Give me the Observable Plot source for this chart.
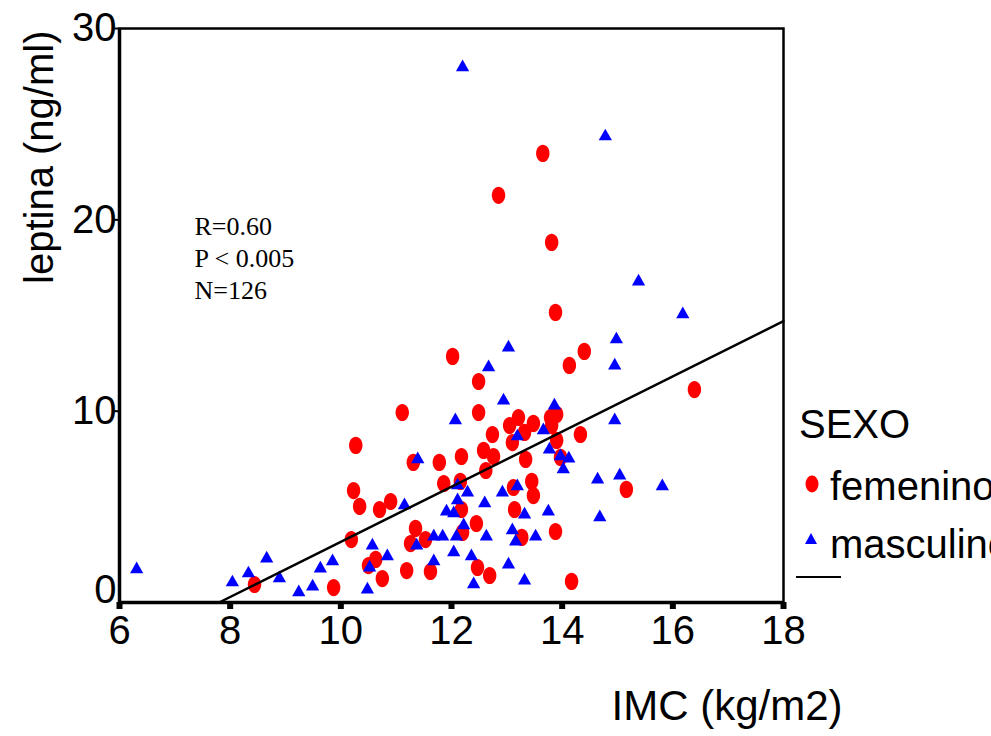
<!DOCTYPE html>
<html>
<head>
<meta charset="utf-8">
<script src="https://cdn.jsdelivr.net/npm/d3@7"></script>
<script src="https://cdn.jsdelivr.net/npm/@observablehq/plot@0.6"></script>
<style>
  html, body { margin: 0; padding: 0; background: #fff; }
  #wrap { position: relative; width: 991px; height: 736px; overflow: hidden; font-family: "Liberation Sans", Arial, sans-serif; }
  #legend { position: absolute; left: 0; top: 0; width: 991px; height: 736px; pointer-events: none; }
  #legend .t { position: absolute; font-size: 40px; line-height: 1; color: #000; white-space: nowrap; }
</style>
</head>
<body>
<div id="wrap"></div>
<script>
// ---- data ----
const femX = [13.65,12.85,13.81,13.88,12.02,14.40,14.13,12.49,16.39,11.11,12.49,10.27,11.31,11.78,12.18,12.58,12.74,12.76,13.05,13.21,13.48,13.32,13.10,13.79,13.90,13.90,14.33,13.34,13.97,12.62,12.16,11.86,10.23,10.34,10.70,10.90,13.12,13.45,13.48,15.16,13.14,12.18,11.35,12.20,12.45,10.19,11.53,11.26,13.27,13.88,10.63,10.50,11.19,11.62,12.47,12.69,10.75,8.44,9.87,14.17,13.81];
const femY = [23.47,21.28,18.82,15.16,12.86,13.12,12.39,11.55,11.13,9.93,9.93,8.21,7.32,7.32,7.63,7.95,8.78,7.63,9.25,9.67,9.36,8.89,8.36,9.67,9.83,8.47,8.78,7.48,7.58,6.90,6.33,6.22,5.85,5.02,4.86,5.28,6.01,6.33,5.59,5.91,4.86,4.86,3.87,3.66,4.13,3.29,3.29,3.08,3.40,3.71,2.25,1.93,1.67,1.62,1.83,1.41,1.25,0.94,0.78,1.10,9.25];
const masX = [12.20,14.78,15.38,16.18,14.98,13.03,12.67,14.95,12.94,13.86,12.07,14.95,13.19,13.66,13.77,13.97,14.12,14.02,14.64,15.04,15.81,11.39,11.15,12.11,12.29,12.11,11.91,12.04,12.60,12.92,13.19,13.75,14.68,12.22,12.63,13.10,13.16,13.52,11.68,11.84,12.09,11.37,12.04,10.57,10.84,11.68,12.36,13.03,13.32,8.66,8.33,9.63,9.85,10.52,8.89,8.04,9.24,9.49,10.48,12.40,13.32,6.31];
const masY = [28.07,24.46,16.88,15.16,13.85,13.43,12.39,12.49,10.66,10.40,9.62,9.62,8.78,9.10,8.10,7.74,7.63,7.06,6.53,6.74,6.17,7.58,5.18,6.22,5.85,5.44,4.86,4.76,5.28,5.85,6.17,4.86,4.55,4.13,3.55,3.87,3.29,3.55,3.55,3.55,3.55,3.08,2.72,3.08,2.51,2.25,2.51,2.09,4.70,2.40,1.62,1.88,2.25,1.93,1.36,1.15,0.63,0.94,0.78,1.05,1.25,1.83];
const fitX = [7.8, 18];
const fitY = [0, 14.7];
const xTicks = [6, 8, 10, 12, 14, 16, 18];
const yTicks = [10, 20, 30];
const yTickZero = [0];
const groups = ["femenino", "masculino"];
const legendTitle = "SEXO";
const xLabel = "IMC (kg/m2)";
const yLabel = "leptina (ng/ml)";
const statsText = ["R=0.60", "P < 0.005", "N=126"];

// ---- tables ----
const fem = femX.map((x, i) => ({x, y: femY[i], sexo: groups[0]}));
const mas = masX.map((x, i) => ({x, y: masY[i], sexo: groups[1]}));
const fit = fitX.map((x, i) => ({x, y: fitY[i]}));

// custom symbols
const ellipseSym = {
  draw(ctx, size) {
    const r = Math.sqrt(size / Math.PI);
    const rx = r * 0.78, ry = r, k = 0.5523;
    ctx.moveTo(rx, 0);
    ctx.bezierCurveTo(rx, ry * k, rx * k, ry, 0, ry);
    ctx.bezierCurveTo(-rx * k, ry, -rx, ry * k, -rx, 0);
    ctx.bezierCurveTo(-rx, -ry * k, -rx * k, -ry, 0, -ry);
    ctx.bezierCurveTo(rx * k, -ry, rx, -ry * k, rx, 0);
    ctx.closePath();
  }
};
const triSym = {
  draw(ctx, size) {
    const r = Math.sqrt(size / Math.PI);
    const a = r * 1.3, h = r * 2.3;
    ctx.moveTo(0, -h / 2);
    ctx.lineTo(a, h / 2);
    ctx.lineTo(-a, h / 2);
    ctx.closePath();
  }
};

const chart = Plot.plot({
  width: 991,
  height: 736,
  marginLeft: 119,
  marginRight: 208,
  marginTop: 28,
  marginBottom: 134,
  style: {fontFamily: "'Liberation Sans', Arial, sans-serif", fontSize: "40px", background: "#fff", color: "#000"},
  x: {domain: [6, 18]},
  y: {domain: [0, 30]},
  marks: [
    Plot.frame({stroke: "#000", strokeWidth: 2.5}),
    Plot.ruleX([6], {stroke: "#000", strokeWidth: 3.5}),
    Plot.ruleY([0], {stroke: "#000", strokeWidth: 3.5}),
    Plot.axisX(xTicks, {tickSize: 7, tickPadding: 6, strokeWidth: 6, label: null, fontSize: 40}),
    Plot.axisY(yTicks, {tickSize: 5, tickPadding: -2, strokeWidth: 2, label: null, fontSize: 40}),
    Plot.axisY(yTickZero, {tickSize: 0, tickPadding: 3, dy: -12, label: null, fontSize: 40}),
    Plot.dot(fem, {x: "x", y: "y", symbol: ellipseSym, r: 8.6, fill: "#ff0000", stroke: null}),
    Plot.dot(mas, {x: "x", y: "y", symbol: triSym, r: 5.1, fill: "#0000ff", stroke: null}),
    Plot.line(fit, {x: "x", y: "y", stroke: "#000", strokeWidth: 2.5}),
    Plot.text([statsText.join("\n")], {frameAnchor: "top-left", dx: 75, dy: 184, textAnchor: "start", lineAnchor: "top", lineHeight: 1.23, fontFamily: "'Liberation Serif', 'Times New Roman', serif", fontSize: 26, fill: "#000"}),
    Plot.text([xLabel], {frameAnchor: "bottom-right", textAnchor: "end", lineAnchor: "top", dx: 59, dy: 88, fontSize: 42, fill: "#000"}),
    Plot.text([yLabel], {frameAnchor: "top-left", rotate: -90, textAnchor: "end", lineAnchor: "middle", dx: -79, dy: 2, fontSize: 40, fill: "#000"})
  ]
});

const wrap = document.getElementById("wrap");
wrap.appendChild(chart);

// ---- legend (HTML overlay on the right) ----
const legend = document.createElement("div");
legend.id = "legend";
legend.innerHTML = `
  <div class="t" style="left:799px; top:404px;">${legendTitle}</div>
  <svg style="position:absolute; left:803px; top:473px;" width="18" height="22"><ellipse cx="9" cy="11" rx="6.5" ry="8.5" fill="#ff0000"/></svg>
  <div class="t" style="left:830px; top:466px;">${groups[0]}</div>
  <svg style="position:absolute; left:803px; top:532px;" width="16" height="14"><path d="M8,1 L14,12 L2,12 Z" fill="#0000ff"/></svg>
  <div class="t" style="left:830px; top:524px;">${groups[1]}</div>
  <svg style="position:absolute; left:796px; top:575px;" width="46" height="4"><line x1="0" y1="2" x2="45" y2="2" stroke="#000" stroke-width="2"/></svg>
`;
wrap.appendChild(legend);
</script>
</body>
</html>
